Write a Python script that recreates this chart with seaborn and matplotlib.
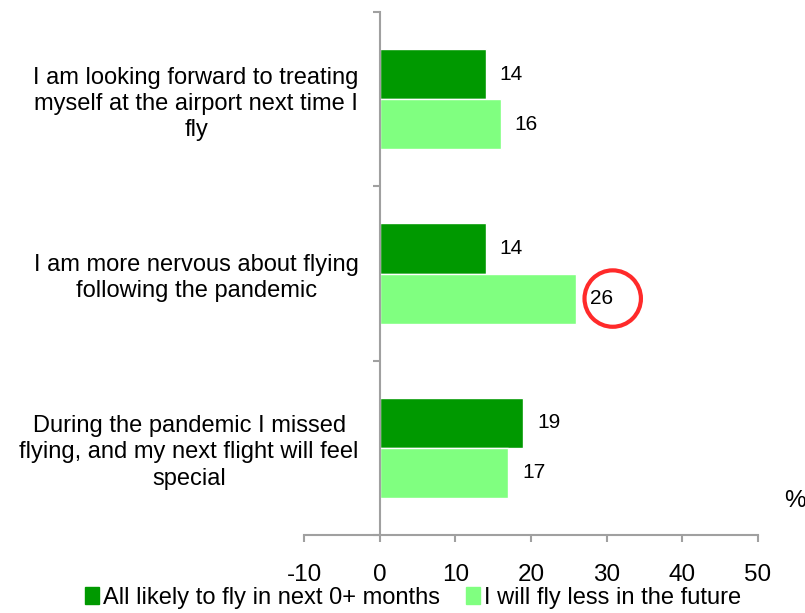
import matplotlib
matplotlib.use("Agg")
import matplotlib.pyplot as plt
import pandas as pd
import seaborn as sns
import numpy as np

# Data
statements = [
    "I am looking forward to treating\nmyself at the airport next time I\nfly",
    "I am more nervous about flying\nfollowing the pandemic",
    "During the pandemic I missed\nflying, and my next flight will feel\nspecial",
]
series_names = ["All likely to fly in next 0+ months", "I will fly less in the future"]
likely_to_fly = [14, 14, 19]
fly_less = [16, 26, 17]
x_ticks = [-10, 0, 10, 20, 30, 40, 50]
highlight = (1, 1)  # (statement index, series index) circled in red

colors = ["#009900", "#80FF80"]

df = pd.DataFrame({
    "statement": statements * 2,
    "series": [series_names[0]] * 3 + [series_names[1]] * 3,
    "value": likely_to_fly + fly_less,
})

sns.set_theme(style="white")
plt.rcParams["font.family"] = ["Liberation Sans", "DejaVu Sans"]
plt.rcParams["axes.unicode_minus"] = False
plt.rcParams["text.color"] = "black"
plt.rcParams["xtick.labelcolor"] = "black"
plt.rcParams["ytick.labelcolor"] = "black"

fig = plt.figure(figsize=(8.05, 6.13), dpi=100)
ax = fig.add_axes([304 / 805, 1 - 535 / 613, (758 - 304) / 805, (535 - 12) / 613])

bar_width = 0.575
sns.barplot(data=df, y="statement", x="value", hue="series", orient="h",
            order=statements, hue_order=series_names, palette=colors,
            width=bar_width, saturation=1, ax=ax, legend=False)

for container in ax.containers:
    ax.bar_label(container, padding=10, fontsize=15, color="black")

# red circle around the highlighted value
si, hi = highlight
hval = [likely_to_fly, fly_less][hi][si]
ypos = si + (hi - 0.5) * bar_width / 2
ax.scatter([hval + 4.8], [ypos], s=1650, facecolors="none",
           edgecolors="#FF2A2A", linewidths=3, clip_on=False, zorder=5)

ax.set_xlim(-10, 50)
ax.set_ylim(2.5, -0.5)
ax.set_xticks(x_ticks)
ax.set_xlabel("")
ax.set_ylabel("")

spine_color = "#A0A0A0"
for s in ["top", "right"]:
    ax.spines[s].set_visible(False)
ax.spines["left"].set_position(("data", 0))
ax.spines["left"].set_color(spine_color)
ax.spines["left"].set_linewidth(1.5)
ax.spines["bottom"].set_color(spine_color)
ax.spines["bottom"].set_linewidth(1.5)

ax.tick_params(axis="x", which="major", direction="out", length=5, width=1.5,
               color=spine_color, labelsize=17.5, pad=16, bottom=True)
ax.tick_params(axis="y", which="major", length=0, labelsize=17, pad=15, left=True)
ax.set_yticks(np.arange(-0.5, 3, 1), minor=True)
ax.tick_params(axis="y", which="minor", direction="out", length=5, width=1.5,
               color=spine_color, left=True)
for lbl in ax.get_yticklabels():
    lbl.set_multialignment("center")
    lbl.set_linespacing(1.25)

fig.text(795 / 805, 1 - 501 / 613, "%", ha="center", va="center", fontsize=17.5)

handles = [plt.Rectangle((0, 0), 1, 1, color=c) for c in colors]
fig.legend(handles, series_names, loc="center", bbox_to_anchor=(413 / 805, 1 - 598 / 613),
           ncol=2, frameon=False, fontsize=17, handlelength=0.6, handleheight=0.75,
           handletextpad=0.15, columnspacing=1.1, borderaxespad=0)

fig.savefig("out.png", dpi=100)
